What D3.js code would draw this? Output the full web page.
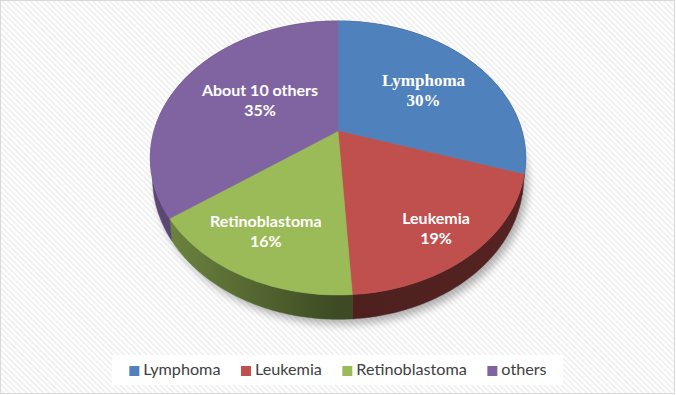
<!DOCTYPE html>
<html>
<head>
<meta charset="utf-8">
<script src="https://cdn.jsdelivr.net/npm/d3@7"></script>
<style>
  html, body { margin: 0; padding: 0; background: #fff; }
  svg { display: block; }
</style>
</head>
<body>
<svg id="chart"></svg>
<script>
// slice data, clockwise from 12 o'clock
const categories = ["Lymphoma", "Leukemia", "Retinoblastoma", "others"];
const labelNames = ["Lymphoma", "Leukemia", "Retinoblastoma", "About 10 others"];
const shares = [30, 19, 16, 35];
const colors = ["#4F81BD", "#C0504D", "#9BBB59", "#8064A2"];

const width = 676, height = 395;

// perspective disc: unit circle -> screen
const cx = 338, cy = 131, rx = 184, ry = 131.7, persp = 0.197, thick = 19.5;
const bottomShrink = 0.988; // base disc is farther away, a bit narrower

const project = (theta, f = 1, drop = 0) => {
    const X = f * Math.sin(theta), Y = -f * Math.cos(theta);
    const w = 1 - persp * Y;
    const s = drop ? bottomShrink : 1;
    return [cx + s * rx * X / w, cy + ry * Y / w + drop / w];
};

const arcPoints = (a0, a1, drop) => {
    const n = Math.max(2, Math.ceil((a1 - a0) / (Math.PI / 180)));
    return d3.range(n + 1).map(i => project(a0 + (a1 - a0) * i / n, 1, drop));
};

const svg = d3.select("#chart")
    .attr("width", width)
    .attr("height", height);

const defs = svg.append("defs");

// faint diagonal hatch background
const hatch = defs.append("pattern")
    .attr("id", "hatch")
    .attr("patternUnits", "userSpaceOnUse")
    .attr("width", 4)
    .attr("height", 4)
    .attr("patternTransform", "rotate(-45)");
hatch.append("rect").attr("width", 4).attr("height", 4).attr("fill", "#ffffff");
hatch.append("rect").attr("width", 1.6).attr("height", 4).attr("fill", "#eeeeee");

defs.append("filter")
    .attr("id", "blur")
    .attr("x", "-20%").attr("y", "-20%")
    .attr("width", "140%").attr("height", "140%")
    .append("feGaussianBlur")
    .attr("stdDeviation", 4);

// side shading: lighter on the left, darkest near the front
colors.forEach((c, i) => {
    const g = defs.append("linearGradient")
        .attr("id", "side" + i)
        .attr("gradientUnits", "userSpaceOnUse")
        .attr("x1", cx - rx).attr("x2", cx + rx)
        .attr("y1", 0).attr("y2", 0);
    [[0, 0.9], [0.5, 2.6], [1, 2.3]].forEach(([o, k]) => {
        g.append("stop")
            .attr("offset", o)
            .attr("stop-color", d3.color(c).darker(k));
    });
});

svg.append("rect")
    .attr("x", 0.5).attr("y", 0.5)
    .attr("width", width - 2).attr("height", height - 2)
    .attr("fill", "url(#hatch)")
    .attr("stroke", "#d9d9d9");

const pie = d3.pie().sort(null).value(d => d)(shares);
const line = d3.line();

// soft shadow under the disc
svg.append("path")
    .attr("d", line(arcPoints(0, 2 * Math.PI, thick)) + "Z")
    .attr("transform", "translate(4,5)")
    .attr("fill", "#000")
    .attr("opacity", 0.3)
    .attr("filter", "url(#blur)");

// side walls
svg.append("g")
    .selectAll("path")
    .data(pie)
    .join("path")
    .attr("d", d => {
        const top = arcPoints(d.startAngle, d.endAngle, 0);
        const bottom = arcPoints(d.startAngle, d.endAngle, thick).reverse();
        return line(top.concat(bottom)) + "Z";
    })
    .attr("fill", (d, i) => `url(#side${i})`)
    .attr("stroke", (d, i) => `url(#side${i})`)
    .attr("stroke-width", 0.5);

// top faces
const topPoly = d => [project(0, 0)].concat(arcPoints(d.startAngle, d.endAngle, 0));

svg.append("g")
    .selectAll("path")
    .data(pie)
    .join("path")
    .attr("d", d => line(topPoly(d)) + "Z")
    .attr("fill", (d, i) => colors[i])
    .attr("stroke", (d, i) => colors[i])
    .attr("stroke-width", 0.5);

// data labels near the mid angle, pushed further out toward the front
const labelPos = d => {
    const mid = (d.startAngle + d.endAngle) / 2 + 0.035;
    return project(mid, 0.635 - 0.155 * Math.cos(mid) + 0.059 * Math.sin(mid));
};

const labels = svg.append("g")
    .selectAll("text")
    .data(pie)
    .join("text")
    .attr("transform", d => `translate(${labelPos(d)})`)
    .attr("text-anchor", "middle")
    .attr("fill", "#fff")
    .attr("font-weight", "bold")
    .attr("font-family", (d, i) => i === 0 ? "'Liberation Serif', 'Times New Roman', serif" : "Lato, 'Open Sans', sans-serif")
    .attr("font-size", (d, i) => i === 0 ? 17 : 16);

labels.append("tspan")
    .attr("x", 0)
    .attr("y", -4)
    .text((d, i) => labelNames[i]);
labels.append("tspan")
    .attr("x", 0)
    .attr("y", 16)
    .text(d => d.data + "%");

// legend
svg.append("rect")
    .attr("x", 112).attr("y", 355)
    .attr("width", 451).attr("height", 30)
    .attr("fill", "#fff");

const legend = svg.append("g");
let lx = 0;
categories.forEach((name, i) => {
    const item = legend.append("g").attr("transform", `translate(${lx},0)`);
    item.append("rect")
        .attr("x", 0).attr("y", -9)
        .attr("width", 10).attr("height", 10)
        .attr("fill", colors[i]);
    const t = item.append("text")
        .attr("x", 14).attr("y", 0)
        .attr("font-family", "Lato, 'Open Sans', sans-serif")
        .attr("font-size", 16.2)
        .attr("fill", "#404040")
        .text(name);
    lx += 14 + t.node().getComputedTextLength() + 20.5;
});
lx -= 20.5;
legend.attr("transform", `translate(${cx - lx / 2},375)`);
</script>
</body>
</html>
